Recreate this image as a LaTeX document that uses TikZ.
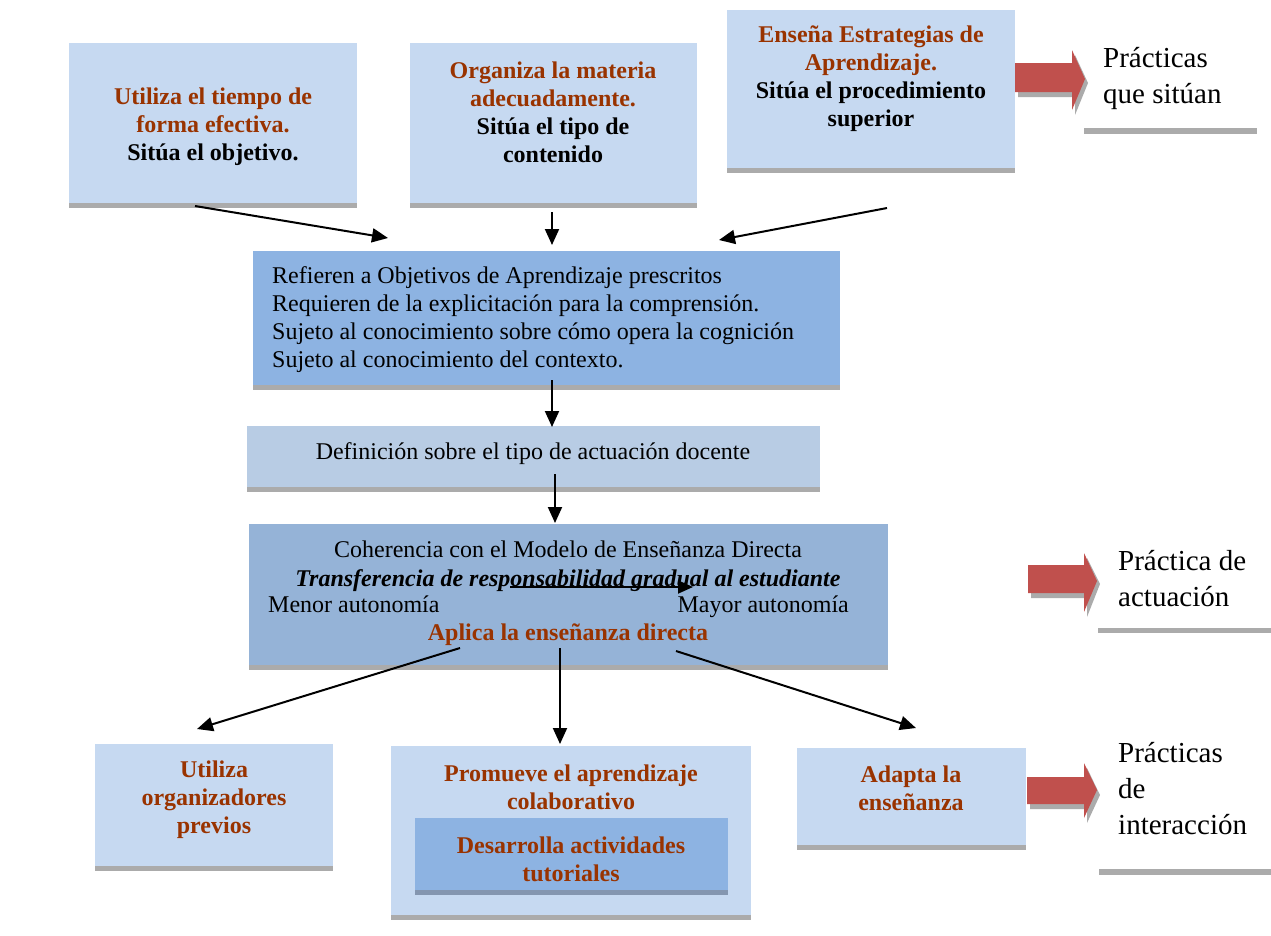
\documentclass[tikz,border=0pt]{standalone}
\usepackage{fontspec}
\setmainfont{Liberation Serif}
\usetikzlibrary{arrows.meta}
\definecolor{lightbox}{HTML}{C6D9F1}
\definecolor{midbox}{HTML}{8DB3E2}
\definecolor{defbox}{HTML}{B8CCE4}
\definecolor{cohbox}{HTML}{95B3D7}
\definecolor{bargray}{HTML}{ABABAB}
\definecolor{innerbar}{HTML}{8496B0}
\definecolor{brick}{HTML}{993300}
\definecolor{redarrow}{HTML}{C0504D}
\newcommand\redtxt[1]{\textcolor{brick}{#1}}
\newcommand\shadowbar[2][bargray]{\fill[#1] (#2.south west) rectangle ([yshift=-5pt]#2.south east);}
\begin{document}
\begin{tikzpicture}[x=1pt,y=-1pt,
 box/.style={rectangle,inner sep=0pt,outer sep=0pt,anchor=north west},
 txt/.style={align=center,inner sep=0pt,yshift=-2.5pt,font=\fontsize{24}{28}\selectfont},
 bftxt/.style={align=center,inner sep=0pt,yshift=-2.5pt,font=\fontsize{24}{28}\selectfont\bfseries},
 side/.style={align=left,inner sep=0pt,anchor=west,yshift=-2.5pt,font=\fontsize{29}{36}\selectfont},
 oneline/.style={text height=17pt,text depth=5pt,inner sep=0pt,yshift=-2pt,font=\fontsize{24}{28}\selectfont},
 conn/.style={line width=2pt,-{Triangle[length=16pt,width=14pt]}},
 bigarrow/.style={fill=redarrow},
 bigshadow/.style={fill=bargray}
]
\useasboundingbox (0,0) rectangle (1271,935);

% ---------- top boxes ----------
\node[box,fill=lightbox,minimum width=288pt,minimum height=160pt] (b1) at (69,43) {};
\shadowbar{b1}
\node[bftxt] (t1) at (213,124) {\redtxt{Utiliza el tiempo de}\\\redtxt{forma efectiva.}\\Sitúa el objetivo.};

\node[box,fill=lightbox,minimum width=287pt,minimum height=160pt] (b2) at (410,43) {};
\shadowbar{b2}
\node[bftxt] (t2) at (553,110) {\redtxt{Organiza la materia}\\\redtxt{adecuadamente.}\\Sitúa el tipo de\\contenido};

\node[box,fill=lightbox,minimum width=288pt,minimum height=158pt] (b3) at (727,10) {};
\shadowbar{b3}
\node[bftxt] (t3) at (871,76) {\redtxt{Enseña Estrategias de}\\\redtxt{Aprendizaje.}\\Sitúa el procedimiento\\superior};

% ---------- middle boxes ----------
\node[box,fill=midbox,minimum width=587pt,minimum height=134pt] (b4) at (253,251) {};
\shadowbar{b4}
\node[txt,align=left,anchor=west] (t4) at (272,317) {Refieren a Objetivos de Aprendizaje prescritos\\Requieren de la explicitación para la comprensión.\\Sujeto al conocimiento sobre cómo opera la cognición\\Sujeto al conocimiento del contexto.};

\node[box,fill=defbox,minimum width=573pt,minimum height=61pt] (b5) at (247,426) {};
\shadowbar{b5}
\node[oneline] (t5) at (533,451) {Definición sobre el tipo de actuación docente};

\node[box,fill=cohbox,minimum width=639pt,minimum height=141pt] (b6) at (249,524) {};
\shadowbar{b6}
\node[oneline] (c1) at (568,549) {Coherencia con el Modelo de Enseñanza Directa};
\node[oneline,font=\fontsize{24}{28}\selectfont\bfseries\itshape] (c2) at (568,578) {Transferencia de responsabilidad gradual al estudiante};
\node[oneline,anchor=west] (c3) at (268,604) {Menor autonomía};
\node[oneline,anchor=east] (c4) at (849,604) {Mayor autonomía};
\node[oneline,font=\fontsize{24}{28}\selectfont\bfseries,text=brick] (c5) at (568,632) {Aplica la enseñanza directa};
\coordinate (ia) at (510,587);
\coordinate (ib) at (693,587);
\draw[line width=1.8pt,-{Triangle[length=15pt,width=13pt]}] (ia) -- (ib);

% ---------- bottom boxes ----------
\node[box,fill=lightbox,minimum width=238pt,minimum height=122pt] (b7) at (95,744) {};
\shadowbar{b7}
\node[bftxt,text=brick] (t7) at (214,797) {Utiliza\\organizadores\\previos};

\node[box,fill=lightbox,minimum width=360pt,minimum height=169pt] (b8) at (391,746) {};
\shadowbar{b8}
\node[bftxt,text=brick] (t8) at (571,785) {Promueve el aprendizaje\\colaborativo};
\node[box,fill=midbox,minimum width=313pt,minimum height=72pt] (b9) at (415,818) {};
\shadowbar[innerbar]{b9}
\node[bftxt,text=brick] (t9) at (571,857) {Desarrolla actividades\\tutoriales};

\node[box,fill=lightbox,minimum width=229pt,minimum height=97pt] (b10) at (797,748) {};
\shadowbar{b10}
\node[bftxt,text=brick] (t10) at (911,786) {Adapta la\\enseñanza};

% ---------- red block arrows ----------
\fill[bigshadow] (1018,68) -- (1075,68) -- (1075,55) -- (1088,83) -- (1075,115) -- (1075,97) -- (1018,97) -- cycle;
\fill[bigarrow] (1015,63) -- (1072,63) -- (1072,50) -- (1085,79) -- (1072,110) -- (1072,92) -- (1015,92) -- cycle;

\fill[bigshadow] (1031,570) -- (1087,570) -- (1087,558) -- (1100,584) -- (1087,617) -- (1087,598) -- (1031,598) -- cycle;
\fill[bigarrow] (1028,565) -- (1084,565) -- (1084,553) -- (1097,581) -- (1084,612) -- (1084,593) -- (1028,593) -- cycle;

\fill[bigshadow] (1030,782) -- (1087,782) -- (1087,768) -- (1100,795) -- (1087,823) -- (1087,809) -- (1030,809) -- cycle;
\fill[bigarrow] (1027,777) -- (1084,777) -- (1084,763) -- (1097,790) -- (1084,818) -- (1084,804) -- (1027,804) -- cycle;

% ---------- side labels ----------
\node[side] (r1) at (1103,76) {Prácticas\\que sitúan};
\fill[bargray] (1084,128) rectangle (1257,134);
\node[side] (r2) at (1118,576) {Práctica de\\actuación};
\fill[bargray] (1098,628) rectangle (1271,633);
\node[side] (r3) at (1118,786) {Prácticas\\de\\interacción};
\fill[bargray] (1099,869) rectangle (1271,875);

% ---------- connectors ----------
\coordinate (a1s) at (195,206); \coordinate (a1e) at (388,238);
\coordinate (a2s) at (552,212); \coordinate (a2e) at (552,245);
\coordinate (a3s) at (887,208); \coordinate (a3e) at (719,240);
\coordinate (a4s) at (552,380); \coordinate (a4e) at (552,427);
\coordinate (a5s) at (555,474); \coordinate (a5e) at (555,523);
\coordinate (a6s) at (460,648); \coordinate (a6e) at (197,729);
\coordinate (a7s) at (560,648); \coordinate (a7e) at (560,744);
\coordinate (a8s) at (676,651); \coordinate (a8e) at (916,728);
\draw[conn] (a1s) -- (a1e);
\draw[conn] (a2s) -- (a2e);
\draw[conn] (a3s) -- (a3e);
\draw[conn] (a4s) -- (a4e);
\draw[conn] (a5s) -- (a5e);
\draw[conn] (a6s) -- (a6e);
\draw[conn] (a7s) -- (a7e);
\draw[conn] (a8s) -- (a8e);
\end{tikzpicture}
\end{document}
